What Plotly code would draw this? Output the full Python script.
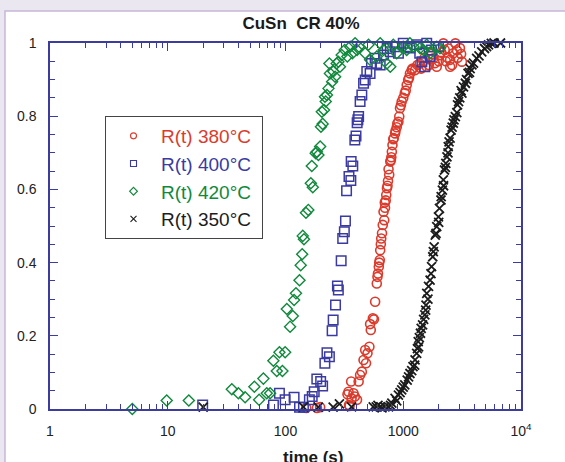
import plotly.graph_objects as go

# ---- data ----
t_380 = [150, 185, 197, 336, 343, 346, 350, 361, 364, 378, 388, 405, 418, 430, 445, 460, 475, 483, 497, 516,
         523, 530, 552, 564, 577, 596, 604, 610, 620, 625, 632, 637, 645, 650, 660, 670, 680, 690, 697, 700,
         710, 717, 727, 735, 742, 750, 760, 776, 785, 792, 800, 810, 823, 830, 852, 860, 880, 890, 910, 925,
         938, 955, 970, 1000, 1030, 1050, 1070, 1100, 1120, 1140, 1180, 1200, 1260, 1320, 1380, 1420, 1480,
         1520, 1583, 1650, 1700, 1750, 1805, 1850, 1925, 2000, 2050, 2100, 2190, 2250, 2300, 2380, 2420,
         2500, 2500, 2600, 2660, 2770, 2850, 2900, 3030, 3100, 3150, 3230]
r_380 = [0.003, 0.003, 0.005, 0.040, 0.047, 0.011, 0.008, 0.075, 0.029, 0.043, 0.034, 0.025, 0.075, 0.093, 0.102,
         0.134, 0.161, 0.125, 0.152, 0.170, 0.232, 0.216, 0.248, 0.245, 0.293, 0.343, 0.361, 0.370, 0.389, 0.400,
         0.407, 0.434, 0.450, 0.466, 0.480, 0.503, 0.539, 0.516, 0.564, 0.550, 0.570, 0.585, 0.603, 0.610, 0.623,
         0.655, 0.640, 0.676, 0.680, 0.688, 0.703, 0.721, 0.737, 0.740, 0.753, 0.760, 0.770, 0.780, 0.785, 0.799,
         0.822, 0.830, 0.840, 0.850, 0.863, 0.870, 0.885, 0.899, 0.905, 0.917, 0.926, 0.930, 0.926, 0.940, 0.944,
         0.930, 0.950, 0.960, 0.935, 0.940, 0.955, 0.970, 0.958, 0.945, 0.935, 0.950, 0.967, 0.975, 0.999, 0.981,
         0.950, 0.960, 0.985, 0.954, 0.935, 0.940, 0.972, 0.999, 0.980, 0.960, 0.986, 0.970, 0.949, 1.008]

t_400 = [19.8, 79, 88.8, 99.3, 118.3, 131.5, 142, 159.5, 168.6, 175.4, 184.5, 198.9, 206.7, 216, 225, 236,
         248.8, 254, 266, 276, 281, 297, 306, 316, 323, 330, 346, 359, 361, 373, 388, 397, 406, 412, 418, 430,
         445, 460, 475, 490, 523, 537, 577, 596, 637, 680, 730, 776, 852, 910, 1000, 1070, 1140, 1210, 1300,
         1380, 1440, 1525, 1583, 1690, 1740, 1870, 1990]
r_400 = [0.011, 0.011, 0.043, 0.025, 0.032, 0.005, 0.005, 0.025, 0.034, 0.047, 0.082, 0.075, 0.063, 0.125, 0.154,
         0.143, 0.214, 0.243, 0.284, 0.336, 0.325, 0.405, 0.466, 0.484, 0.514, 0.596, 0.635, 0.624, 0.676, 0.664,
         0.735, 0.746, 0.782, 0.790, 0.799, 0.840, 0.858, 0.890, 0.899, 0.922, 0.917, 0.944, 0.958, 0.944, 0.940,
         0.967, 0.985, 0.976, 0.990, 0.972, 0.999, 0.990, 0.986, 1.008, 0.995, 0.972, 0.949, 0.935, 0.999, 0.963,
         0.981, 1.004, 0.990]

t_420 = [5, 9.8, 15.1, 35, 39.8, 45.4, 54.4, 59.7, 64.9, 69.3, 74, 78.9, 84.3, 88.8, 94.2, 99.3, 102.6, 109.4,
         115.3, 118.3, 122.7, 131.5, 134.6, 138.6, 140.2, 143.5, 149.2, 156.3, 164.1, 167.2, 170.5, 180.5, 184.5,
         190.4, 196.9, 200.1, 203.4, 206.7, 212.4, 216.4, 219.6, 225, 232, 236, 238.5, 248.8, 254.6, 264, 272,
         281, 290, 300, 318, 335, 354, 370, 390, 405, 420, 445, 475, 507, 523, 556, 596, 637, 680, 727, 776, 823,
         880, 938, 1000, 1070, 1140, 1220, 1300, 1390, 1483, 1583, 1690, 1805, 1925, 2050]
r_420 = [0.000, 0.023, 0.023, 0.054, 0.043, 0.032, 0.061, 0.025, 0.083, 0.043, 0.043, 0.132, 0.104, 0.155, 0.104,
         0.155, 0.273, 0.225, 0.254, 0.298, 0.316, 0.352, 0.393, 0.423, 0.473, 0.464, 0.536, 0.544, 0.617, 0.664,
         0.606, 0.699, 0.703, 0.694, 0.717, 0.771, 0.812, 0.779, 0.817, 0.853, 0.840, 0.858, 0.876, 0.944, 0.917,
         0.894, 0.922, 0.908, 0.944, 0.949, 0.935, 0.967, 0.981, 0.963, 0.990, 0.972, 0.999, 0.981, 0.990, 1.008,
         0.972, 0.995, 0.954, 1.004, 0.963, 0.999, 0.981, 0.944, 0.935, 0.995, 0.972, 1.008, 0.990, 0.981, 0.999,
         0.990, 1.004, 0.986, 0.981, 0.995, 0.972, 1.004, 0.990, 0.986]

t_350 = [20, 142, 190, 254, 287, 364, 556, 590, 610, 637, 660, 700, 750, 780, 800, 852, 880, 910, 940, 970, 1000,
         1030, 1080, 1110, 1140, 1180, 1210, 1250, 1260, 1300, 1320, 1340, 1350, 1370, 1400, 1420, 1460, 1490,
         1525, 1550, 1560, 1583, 1620, 1640, 1690, 1720, 1740, 1780, 1800, 1830, 1870, 1900, 1925, 1990, 2000,
         2030, 2090, 2100, 2150, 2190, 2200, 2240, 2280, 2300, 2350, 2400, 2410, 2450, 2500, 2550, 2600, 2660,
         2700, 2770, 2850, 2890, 2950, 3020, 3100, 3150, 3250, 3370, 3450, 3550, 3650, 3700, 3830, 3950, 4200,
         4400, 4640, 4900, 5100, 5300, 5600, 5900, 6200, 6700]
r_350 = [0.005, 0.006, 0.005, 0.005, 0.014, 0.006, 0.006, 0.006, 0.010, 0.006, 0.003, 0.006, 0.006, 0.010, 0.016,
         0.029, 0.022, 0.038, 0.045, 0.052, 0.060, 0.066, 0.079, 0.088, 0.097, 0.105, 0.116, 0.120, 0.134, 0.152,
         0.165, 0.184, 0.170, 0.195, 0.207, 0.220, 0.230, 0.245, 0.257, 0.270, 0.284, 0.316, 0.300, 0.335, 0.352,
         0.370, 0.389, 0.416, 0.430, 0.443, 0.475, 0.480, 0.498, 0.525, 0.510, 0.548, 0.571, 0.580, 0.598, 0.626,
         0.610, 0.653, 0.660, 0.671, 0.689, 0.700, 0.717, 0.730, 0.740, 0.762, 0.770, 0.781, 0.790, 0.799, 0.810,
         0.831, 0.840, 0.850, 0.870, 0.863, 0.880, 0.890, 0.900, 0.917, 0.920, 0.930, 0.940, 0.945, 0.958, 0.965,
         0.976, 0.985, 0.990, 0.995, 0.999, 1.000, 1.004, 1.000]

x_tickvals = [1, 10, 100, 1000, 10000]
x_ticktext = ["1", "10", "100", "1000", "10<sup>4</sup>"]
x_minor = [m * d for d in (1, 10, 100, 1000) for m in range(2, 10)]

RED = "#db3b2c"
BLUE = "#3a3aa2"
GREEN = "#10893c"
BLACK = "#1c1c1c"
AXIS = "#3c3c9e"
FONT = "Liberation Sans, Arial, sans-serif"

series = [
    ("R(t) 380°C", t_380, r_380, RED, "circle-open", 9, 1.6),
    ("R(t) 400°C", t_400, r_400, BLUE, "square-open", 9.5, 1.5),
    ("R(t) 420°C", t_420, r_420, GREEN, "diamond-open", 8.5, 1.4),
    ("R(t) 350°C", t_350, r_350, BLACK, "x-thin-open", 9, 1.8),
]

fig = go.Figure()
for name, tx, ry, col, sym, sz, lw in series:
    fig.add_trace(go.Scatter(
        x=tx, y=ry, mode="markers", showlegend=False, cliponaxis=False,
        marker=dict(symbol=sym, size=sz, color=col, line=dict(color=col, width=lw)),
    ))
# legend entries (small symbols like the reference)
for name, tx, ry, col, sym, sz, lw in series:
    fig.add_trace(go.Scatter(
        x=[None], y=[None], mode="markers",
        name=f"<span style='color:{col}'>{name}\u00a0</span>",
        marker=dict(symbol=sym, size=6, color=col, line=dict(color=col, width=1.1)),
    ))

W, H = 565, 462
L, R, T, B = 50, 44, 43, 53
pw, ph = W - L - R, H - T - B

def px(xp):
    return (xp - L) / pw

def py(yp):
    return (H - B - yp) / ph

axis_common = dict(
    showline=True, linecolor=AXIS, linewidth=1.5, mirror="allticks",
    ticks="inside", tickcolor=AXIS, tickwidth=1.2, ticklen=8,
    showgrid=False, zeroline=False,
    tickfont=dict(family=FONT, size=14, color="#222222"),
)

fig.update_xaxes(type="log", range=[0, 4], tickmode="array", tickvals=x_tickvals, ticktext=x_ticktext,
                 ticklabelstandoff=8,
                 minor=dict(ticks="inside", tickmode="array", tickvals=x_minor, ticklen=5,
                            tickcolor=AXIS, tickwidth=1.1, showgrid=False),
                 **axis_common)
fig.update_yaxes(range=[0, 1], dtick=0.2, tick0=0, ticklabelstandoff=9,
                 minor=dict(ticks="inside", dtick=0.05, ticklen=5, tickcolor=AXIS, tickwidth=1.1,
                            showgrid=False),
                 **axis_common)

fig.update_layout(
    width=W, height=H,
    margin=dict(l=L, r=R, t=T, b=B),
    paper_bgcolor="#ebe7f1",
    plot_bgcolor="white",
    font=dict(family=FONT, color="#222222"),
    title=dict(text="<b>CuSn  CR 40%</b>", x=301 / W, y=1 - 23 / H, xref="container", yref="container",
               xanchor="center", yanchor="middle", font=dict(family=FONT, size=17, color="#1a1a1a")),
    legend=dict(x=px(105), y=py(116), xanchor="left", yanchor="top",
                bgcolor="white", bordercolor="#444444", borderwidth=1,
                font=dict(family=FONT, size=19), itemwidth=45, tracegroupgap=0),
    shapes=[dict(type="rect", xref="paper", yref="paper", x0=px(5), x1=px(640), y0=py(11), y1=py(520),
                 fillcolor="white", line=dict(color="#c7b6d6", width=1.5), layer="below")],
    annotations=[dict(text="<b>time (s)</b>", xref="paper", yref="paper", x=px(313), y=py(457),
                      xanchor="center", yanchor="middle", showarrow=False,
                      font=dict(family=FONT, size=17, color="#1a1a1a"))],
)

fig.write_html("out.html", config={"displayModeBar": False},
               post_script="document.body.style.margin='0';document.body.style.overflow='hidden';")
